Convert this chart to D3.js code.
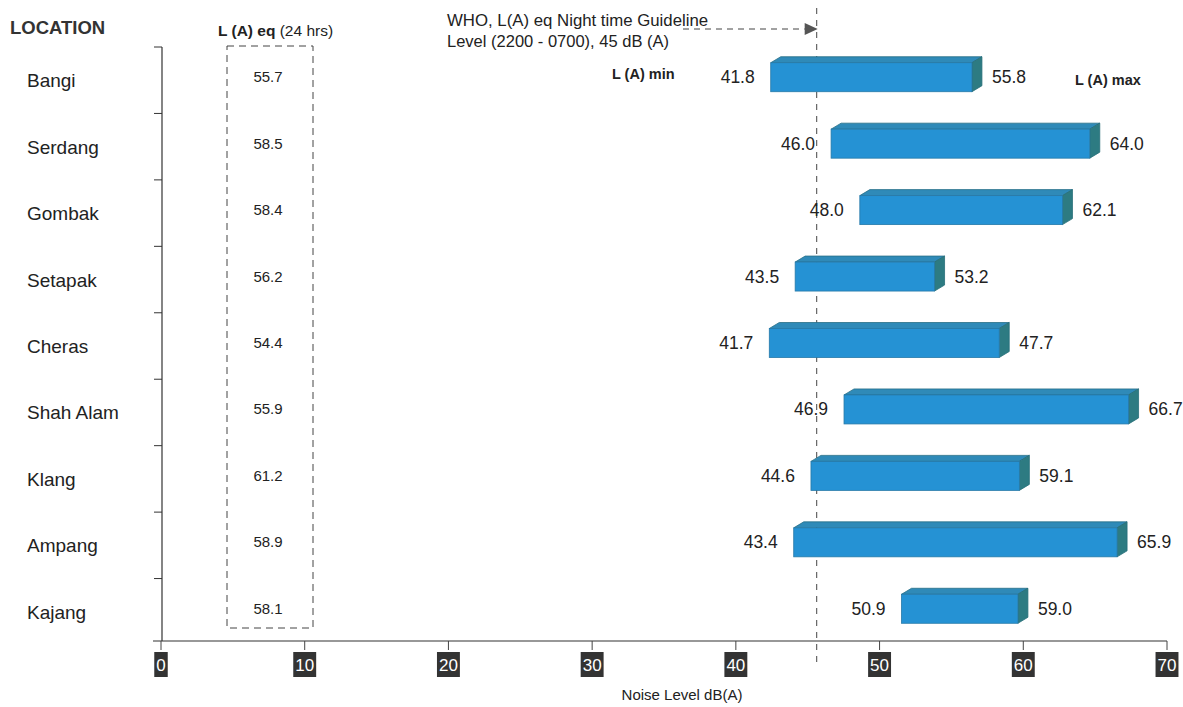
<!DOCTYPE html>
<html>
  <head>
    <title>Noise level by location</title>
    <script src="https://d3js.org/d3.v7.min.js"></script>
    <style type="text/css">
      body { margin: 0; background: #fff; }
      text { font-family: "Liberation Sans", Arial, sans-serif; fill: #222; }
    </style>
  </head>
  <body>
    <script>
      // data
      var locations = ["Bangi", "Serdang", "Gombak", "Setapak", "Cheras", "Shah Alam", "Klang", "Ampang", "Kajang"];
      var laMin = [41.8, 46.0, 48.0, 43.5, 41.7, 46.9, 44.6, 43.4, 50.9];
      // bar ends as drawn (Cheras bar reaches ~57.7 although it is labelled 47.7)
      var laMax = [55.8, 64.0, 62.1, 53.2, 57.7, 66.7, 59.1, 65.9, 59.0];
      var maxLabels = ["55.8", "64.0", "62.1", "53.2", "47.7", "66.7", "59.1", "65.9", "59.0"];
      var laEq = [55.7, 58.5, 58.4, 56.2, 54.4, 55.9, 61.2, 58.9, 58.1];
      var xTicks = [0, 10, 20, 30, 40, 50, 60, 70];
      var guideline = 45;

      var width = 1183, height = 707;
      var axisY = 641, axisX = 162;
      var barH = 29, depthX = 10, depthY = 6;

      var svg = d3.select("body").append("svg")
                  .attr("width", width)
                  .attr("height", height);

      var xScale = d3.scaleLinear().domain([0, 70]).range([161, 1167]);
      // bars in the printed figure sit a few pixels right of the tick marks
      var barScale = xScale.copy().range([170, 1176]);
      var yScale = d3.scaleBand().domain(locations).range([46, 644]);

      // x axis line and ticks
      svg.append("line")
         .attr("x1", 153).attr("x2", xScale(70))
         .attr("y1", axisY).attr("y2", axisY)
         .attr("stroke", "#333").attr("stroke-width", 1.2);

      var xt = svg.selectAll(".xtick").data(xTicks).enter().append("g")
                  .attr("class", "xtick")
                  .attr("transform", function(d) { return "translate(" + xScale(d) + ",0)"; });
      xt.append("line")
        .attr("y1", axisY).attr("y2", axisY + 9)
        .attr("stroke", "#444");
      xt.append("text")
        .attr("y", 671)
        .attr("text-anchor", "middle")
        .attr("font-size", "17px")
        .style("fill", "#fff")
        .text(function(d) { return d; });
      xt.each(function() {
          var g = d3.select(this);
          var b = g.select("text").node().getBBox();
          g.insert("rect", "text")
           .attr("x", b.x - 2).attr("y", 652)
           .attr("width", b.width + 4).attr("height", 25)
           .attr("fill", "#333");
      });

      svg.append("text")
         .attr("x", 682).attr("y", 700)
         .attr("text-anchor", "middle")
         .attr("font-size", "15px")
         .text("Noise Level dB(A)");

      // y axis line with ticks between locations
      svg.append("line")
         .attr("x1", axisX).attr("x2", axisX)
         .attr("y1", yScale.range()[0] + 1).attr("y2", axisY)
         .attr("stroke", "#333").attr("stroke-width", 1.2);
      svg.selectAll(".ytick").data(locations).enter().append("line")
         .attr("x1", axisX - 8).attr("x2", axisX)
         .attr("y1", function(d) { return yScale(d) + 1; })
         .attr("y2", function(d) { return yScale(d) + 1; })
         .attr("stroke", "#333");

      svg.selectAll(".loc").data(locations).enter().append("text")
         .attr("x", 27)
         .attr("y", function(d) { return yScale(d) + yScale.bandwidth() / 2 + 8; })
         .attr("font-size", "19px")
         .text(function(d) { return d; });

      svg.append("text")
         .attr("x", 10).attr("y", 34)
         .attr("font-size", "18.5px").attr("font-weight", "bold")
         .style("fill", "#333")
         .text("LOCATION");

      // L(A) eq column
      var eqHead = svg.append("text")
                      .attr("x", 218).attr("y", 36)
                      .attr("font-size", "15.5px");
      eqHead.append("tspan").attr("font-weight", "bold").text("L (A) eq");
      eqHead.append("tspan").text(" (24 hrs)");

      svg.append("rect")
         .attr("x", 227).attr("y", 46)
         .attr("width", 86).attr("height", 582)
         .attr("fill", "none")
         .attr("stroke", "#444")
         .attr("stroke-dasharray", "7,5");

      function barMid(i) { return yScale(locations[i]) + yScale.bandwidth() / 2 - 2; }

      svg.selectAll(".eq").data(laEq).enter().append("text")
         .attr("x", 268)
         .attr("y", function(d, i) { return barMid(i) + 5; })
         .attr("text-anchor", "middle")
         .attr("font-size", "15px")
         .text(function(d) { return d.toFixed(1); });

      // WHO guideline
      var gx = barScale(guideline);
      svg.append("line")
         .attr("x1", gx).attr("x2", gx)
         .attr("y1", 8).attr("y2", 666)
         .attr("stroke", "#444").attr("stroke-dasharray", "6,6");

      svg.append("text")
         .attr("x", 447).attr("y", 26)
         .attr("font-size", "16.8px")
         .text("WHO, L(A) eq Night time Guideline");
      svg.append("text")
         .attr("x", 447).attr("y", 47)
         .attr("font-size", "16.5px")
         .text("Level (2200 - 0700), 45 dB (A)");

      svg.append("line")
         .attr("x1", 683).attr("x2", gx - 12)
         .attr("y1", 29).attr("y2", 29)
         .attr("stroke", "#444").attr("stroke-dasharray", "6,5");
      svg.append("path")
         .attr("d", "M" + (gx + 1) + ",29 l-13,-6 l0,12 z")
         .attr("fill", "#555");

      // 3D bars
      var bars = svg.selectAll(".bar").data(locations).enter().append("g").attr("class", "bar");

      bars.append("path")
          .attr("d", function(d, i) {
              var x0 = barScale(laMin[i]), x1 = barScale(laMax[i]), y0 = barMid(i) - barH / 2;
              return "M" + x0 + "," + y0 + " L" + (x0 + depthX) + "," + (y0 - depthY) +
                     " L" + (x1 + depthX) + "," + (y0 - depthY) + " L" + x1 + "," + y0 + " Z";
          })
          .attr("fill", "#2f8ab8").attr("stroke", "#276f86").attr("stroke-width", 0.8);

      bars.append("path")
          .attr("d", function(d, i) {
              var x1 = barScale(laMax[i]), y0 = barMid(i) - barH / 2;
              return "M" + x1 + "," + y0 + " L" + (x1 + depthX) + "," + (y0 - depthY) +
                     " L" + (x1 + depthX) + "," + (y0 - depthY + barH) + " L" + x1 + "," + (y0 + barH) + " Z";
          })
          .attr("fill", "#2d7b82").attr("stroke", "#276f78").attr("stroke-width", 0.8);

      bars.append("rect")
          .attr("x", function(d, i) { return barScale(laMin[i]); })
          .attr("y", function(d, i) { return barMid(i) - barH / 2; })
          .attr("width", function(d, i) { return barScale(laMax[i]) - barScale(laMin[i]); })
          .attr("height", barH)
          .attr("fill", "#2592d4")
          .attr("stroke", "#2679a8").attr("stroke-width", 0.8);

      // min / max labels
      bars.append("text")
          .attr("x", function(d, i) { return barScale(laMin[i]) - 16; })
          .attr("y", function(d, i) { return barMid(i) + 6; })
          .attr("text-anchor", "end")
          .attr("font-size", "17.5px")
          .text(function(d, i) { return laMin[i].toFixed(1); });

      bars.append("text")
          .attr("x", function(d, i) { return barScale(laMax[i]) + 20; })
          .attr("y", function(d, i) { return barMid(i) + 6; })
          .attr("font-size", "17.5px")
          .text(function(d, i) { return maxLabels[i]; });

      svg.append("text")
         .attr("x", 612).attr("y", 79)
         .attr("font-size", "14.5px").attr("font-weight", "bold")
         .text("L (A) min");
      svg.append("text")
         .attr("x", 1075).attr("y", 85)
         .attr("font-size", "14.5px").attr("font-weight", "bold")
         .text("L (A) max");
    </script>
  </body>
</html>
